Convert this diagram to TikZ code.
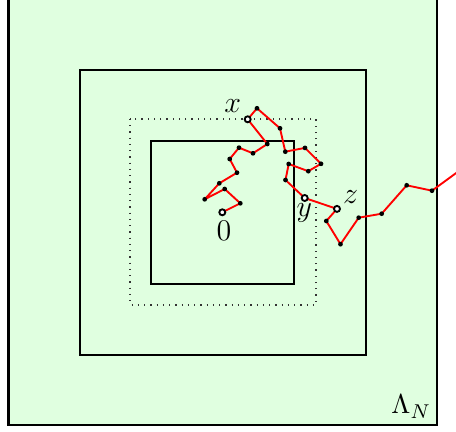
\documentclass[tikz,border=0pt]{standalone}
\begin{document}
\begin{tikzpicture}[x=0.4pt,y=-0.4pt,
  boxline/.style={draw=black,line width=0.55pt},
  walk/.style={draw=red,line width=0.75pt,line join=round},
  dot/.style={circle,fill=black,inner sep=0pt,minimum size=1.9pt},
  opendot/.style={circle,draw=black,fill=white,line width=0.75pt,inner sep=0pt,minimum size=2.4pt},
  lab/.style={inner sep=0pt,font=\large}
]
\useasboundingbox (0,0) rectangle (456,432);
\clip (0,0) rectangle (456,432);
% boxes
\draw[fill=green!12,line width=1pt] (8.5,-1.5) rectangle (437,425);
\draw[boxline] (80,70) rectangle (366,355);
\draw[black!80,line width=0.5pt,dotted] (130,119) rectangle (316,305);
\draw[boxline] (151,141) rectangle (294,284);
% walk vertices
\coordinate (o) at (222.3,212.3);
\coordinate (w1) at (240.3,203.3);
\coordinate (w2) at (224.7,189);
\coordinate (w3) at (204.7,199.3);
\coordinate (w4) at (219.3,183.3);
\coordinate (w5) at (237,172.7);
\coordinate (w6) at (229.7,159);
\coordinate (w7) at (239,147.7);
\coordinate (w8) at (253,153.3);
\coordinate (w9) at (267.3,144);
\coordinate (px) at (247.7,119.3);
\coordinate (w10) at (257,108.3);
\coordinate (w11) at (280,128.3);
\coordinate (w12) at (285.3,151.7);
\coordinate (w13) at (305,147.9);
\coordinate (w14) at (321,163.8);
\coordinate (w15) at (308.3,171.2);
\coordinate (w16) at (288.7,164);
\coordinate (w17) at (285.5,180);
\coordinate (py) at (304.7,198);
\coordinate (pz) at (337,208.9);
\coordinate (w18) at (326.3,221);
\coordinate (w19) at (340.5,244.2);
\coordinate (w20) at (358.7,217.7);
\coordinate (w21) at (381.7,213.7);
\coordinate (w22) at (406.7,185.3);
\coordinate (w23) at (432,190.7);
\coordinate (wend) at (480,155.6);
\draw[walk] (o) -- (w1) -- (w2) -- (w3) -- (w4) -- (w5) -- (w6) -- (w7) -- (w8) -- (w9)
  -- (px) -- (w10) -- (w11) -- (w12) -- (w13) -- (w14) -- (w15) -- (w16) -- (w17)
  -- (py) -- (pz) -- (w18) -- (w19) -- (w20) -- (w21) -- (w22) -- (w23) -- (wend);
\foreach \p in {w1,w2,w3,w4,w5,w6,w7,w8,w9,w10,w11,w12,w13,w14,w15,w16,w17,w18,w19,w20,w21,w22,w23}
  \node[dot] (d\p) at (\p) {};
\node[opendot] (no) at (o) {};
\node[opendot] (nx) at (px) {};
\node[opendot] (ny) at (py) {};
\node[opendot] (nz) at (pz) {};
% labels
\node[lab] (lx) at (232.7,106) {$x$};
\node[lab] (ly) at (304.3,213) {$y$};
\node[lab] (lz) at (350.7,196.7) {$z$};
\node[lab] (l0) at (224,230.7) {$0$};
\node[inner sep=0pt,anchor=base west,font=\fontsize{10.95}{13}\selectfont] (lL) at (391,414) {$\Lambda_N$};
\end{tikzpicture}
\end{document}
